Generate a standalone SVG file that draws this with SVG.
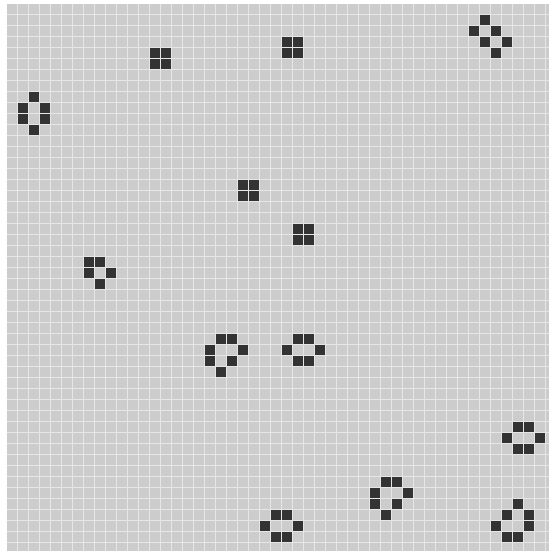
<svg xmlns="http://www.w3.org/2000/svg" width="549" height="551" viewBox="0 0 549 551">
<style>
.live{fill:#333333}
</style>
<defs>
<pattern id="cells" x="7" y="4" width="11" height="11" patternUnits="userSpaceOnUse">
<rect x="0" y="0" width="10" height="10" fill="#cccccc"/>
</pattern>
<rect id="c" width="10" height="10"/>
</defs>
<rect x="0" y="0" width="549" height="551" fill="#ffffff"/>
<rect x="7" y="4" width="542" height="547" fill="#e6e6e6"/>
<rect x="7" y="4" width="542" height="547" fill="url(#cells)"/>
<g id="live-cells" class="live" transform="translate(7,4)">
<!-- top-right shape -->
<g id="shape-top-right">
<use href="#c" x="473" y="11"/>
<use href="#c" x="462" y="22"/>
<use href="#c" x="484" y="22"/>
<use href="#c" x="473" y="33"/>
<use href="#c" x="495" y="33"/>
<use href="#c" x="484" y="44"/>
</g>
<!-- block 1 -->
<g id="block-1">
<use href="#c" x="143" y="44"/>
<use href="#c" x="154" y="44"/>
<use href="#c" x="143" y="55"/>
<use href="#c" x="154" y="55"/>
</g>
<!-- block 2 -->
<g id="block-2">
<use href="#c" x="275" y="33"/>
<use href="#c" x="286" y="33"/>
<use href="#c" x="275" y="44"/>
<use href="#c" x="286" y="44"/>
</g>
<!-- left beehive -->
<g id="beehive-left">
<use href="#c" x="22" y="88"/>
<use href="#c" x="11" y="99"/>
<use href="#c" x="33" y="99"/>
<use href="#c" x="11" y="110"/>
<use href="#c" x="33" y="110"/>
<use href="#c" x="22" y="121"/>
</g>
<!-- block 3 -->
<g id="block-3">
<use href="#c" x="231" y="176"/>
<use href="#c" x="242" y="176"/>
<use href="#c" x="231" y="187"/>
<use href="#c" x="242" y="187"/>
</g>
<!-- block 4 -->
<g id="block-4">
<use href="#c" x="286" y="220"/>
<use href="#c" x="297" y="220"/>
<use href="#c" x="286" y="231"/>
<use href="#c" x="297" y="231"/>
</g>
<!-- boat -->
<g id="boat">
<use href="#c" x="77" y="253"/>
<use href="#c" x="88" y="253"/>
<use href="#c" x="77" y="264"/>
<use href="#c" x="99" y="264"/>
<use href="#c" x="88" y="275"/>
</g>
<!-- loaf center -->
<g id="loaf-center">
<use href="#c" x="209" y="330"/>
<use href="#c" x="220" y="330"/>
<use href="#c" x="198" y="341"/>
<use href="#c" x="231" y="341"/>
<use href="#c" x="198" y="352"/>
<use href="#c" x="220" y="352"/>
<use href="#c" x="209" y="363"/>
</g>
<!-- beehive center -->
<g id="beehive-center">
<use href="#c" x="286" y="330"/>
<use href="#c" x="297" y="330"/>
<use href="#c" x="275" y="341"/>
<use href="#c" x="308" y="341"/>
<use href="#c" x="286" y="352"/>
<use href="#c" x="297" y="352"/>
</g>
<!-- beehive right -->
<g id="beehive-right">
<use href="#c" x="506" y="418"/>
<use href="#c" x="517" y="418"/>
<use href="#c" x="495" y="429"/>
<use href="#c" x="528" y="429"/>
<use href="#c" x="506" y="440"/>
<use href="#c" x="517" y="440"/>
</g>
<!-- loaf bottom -->
<g id="loaf-bottom">
<use href="#c" x="374" y="473"/>
<use href="#c" x="385" y="473"/>
<use href="#c" x="363" y="484"/>
<use href="#c" x="396" y="484"/>
<use href="#c" x="363" y="495"/>
<use href="#c" x="385" y="495"/>
<use href="#c" x="374" y="506"/>
</g>
<!-- beehive bottom -->
<g id="beehive-bottom">
<use href="#c" x="264" y="506"/>
<use href="#c" x="275" y="506"/>
<use href="#c" x="253" y="517"/>
<use href="#c" x="286" y="517"/>
<use href="#c" x="264" y="528"/>
<use href="#c" x="275" y="528"/>
</g>
<!-- loaf bottom-right -->
<g id="loaf-bottom-right">
<use href="#c" x="506" y="495"/>
<use href="#c" x="495" y="506"/>
<use href="#c" x="517" y="506"/>
<use href="#c" x="484" y="517"/>
<use href="#c" x="517" y="517"/>
<use href="#c" x="495" y="528"/>
<use href="#c" x="506" y="528"/>
</g>
</g>
</svg>
